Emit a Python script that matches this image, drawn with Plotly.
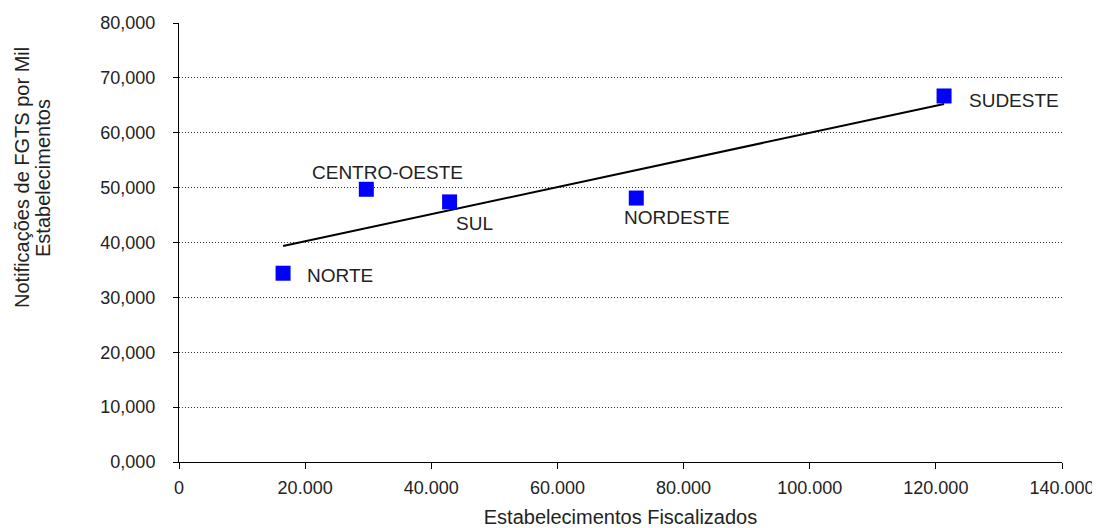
import numpy as np
import plotly.graph_objects as go

regioes = ["NORTE", "CENTRO-OESTE", "SUL", "NORDESTE", "SUDESTE"]
estabelecimentos = [16500, 29700, 42900, 72500, 121300]
notificacoes = [34.4, 49.7, 47.4, 48.1, 66.7]

x_ticks = [0, 20000, 40000, 60000, 80000, 100000, 120000, 140000]
y_ticks = [0, 10, 20, 30, 40, 50, 60, 70, 80]

# linear trend
coef = np.polyfit(estabelecimentos, notificacoes, 1)
tx = np.array([min(estabelecimentos), max(estabelecimentos)])
ty = np.polyval(coef, tx)

FONT = "Liberation Sans, Arial, sans-serif"
TXT = "#222"

fig = go.Figure()
fig.add_trace(go.Scatter(x=tx, y=ty, mode="lines",
                         line=dict(color="black", width=2), hoverinfo="skip"))
fig.add_trace(go.Scatter(x=estabelecimentos, y=notificacoes, mode="markers",
                         marker=dict(symbol="square", size=15, color="#0000FF"),
                         text=regioes))

# label offsets (pixels) per point: (xanchor, xshift, yshift)
offsets = {
    "NORTE": ("left", 22, -2),
    "CENTRO-OESTE": ("center", 21, 17),
    "SUL": ("center", 25, -22),
    "NORDESTE": ("center", 41, -19),
    "SUDESTE": ("left", 23, -5),
}
for r, xv, yv in zip(regioes, estabelecimentos, notificacoes):
    xa, xs, ys = offsets[r]
    fig.add_annotation(x=xv, y=yv, xref="x", yref="y", text=r, showarrow=False,
                       xanchor=xa, yanchor="middle", xshift=xs, yshift=ys,
                       font=dict(family=FONT, size=19, color=TXT))

ytitle_lines = ["Notificações de FGTS por Mil", "Estabelecimentos"]
for line, xs in zip(ytitle_lines, [-157, -136]):
    fig.add_annotation(xref="paper", yref="paper", x=0, y=0.647, xshift=xs,
                       text=line, textangle=-90, showarrow=False,
                       xanchor="center", yanchor="middle",
                       font=dict(family=FONT, size=20, color=TXT))

fig.update_layout(
    width=1100, height=528,
    margin=dict(l=171, r=46, t=15, b=74),
    paper_bgcolor="white", plot_bgcolor="white",
    showlegend=False,
    separators=",.",
    font=dict(family=FONT, size=18, color=TXT),
    xaxis=dict(range=[0, 140000], tickvals=x_ticks, tickformat=",d",
               automargin=False,
               showgrid=False, zeroline=False, showline=True, linecolor="black",
               linewidth=1, ticks="outside", ticklen=6, tickcolor="black",
               ticklabelstandoff=3,
               title=dict(text="Estabelecimentos Fiscalizados", standoff=13,
                          font=dict(size=20))),
    yaxis=dict(range=[0, 80], tickvals=y_ticks, tickformat=".3f",
               automargin=False,
               showgrid=True, gridcolor="#333", griddash="1px,2px", gridwidth=1,
               zeroline=False, showline=True, linecolor="black", linewidth=1,
               ticks="outside", ticklen=5, tickcolor="black",
               ticklabelstandoff=14),
)

fig.write_html("out.html")
